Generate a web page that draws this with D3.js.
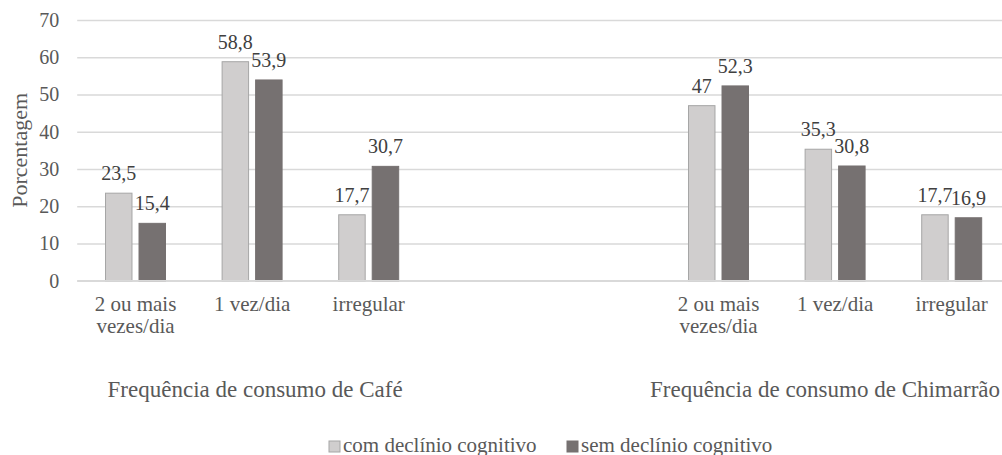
<!DOCTYPE html>
<html>
<head>
<meta charset="utf-8">
<script src="https://cdn.jsdelivr.net/npm/d3@7"></script>
<style>
  html, body { margin: 0; padding: 0; background: #fff; }
  svg { display: block; font-family: "Liberation Serif", "Times New Roman", serif; }
</style>
</head>
<body>
<div id="chart"></div>
<script>
// dados
const groupTitles = ["Frequência de consumo de Café", "Frequência de consumo de Chimarrão"];
const freqLabels = ["2 ou mais\nvezes/dia", "1 vez/dia", "irregular"];
const seriesNames = ["com declínio cognitivo", "sem declínio cognitivo"];
const cafeCom = [23.5, 58.8, 17.7];
const cafeSem = [15.4, 53.9, 30.7];
const chimCom = [47, 35.3, 17.7];
const chimSem = [52.3, 30.8, 16.9];
const yTicks = [0, 10, 20, 30, 40, 50, 60, 70];

const colors = { com: "#d0cece", sem: "#767171" };
const serif = "Liberation Serif, Times New Roman, serif";

// slots: 3 categorias café, 2 vazios, 3 categorias chimarrão
const slots = [
  ...freqLabels.map((l, i) => ({ id: "cafe" + i, label: l, group: 0, com: cafeCom[i], sem: cafeSem[i] })),
  { id: "gap0", label: "" },
  { id: "gap1", label: "" },
  ...freqLabels.map((l, i) => ({ id: "chim" + i, label: l, group: 1, com: chimCom[i], sem: chimSem[i] }))
];

const W = 1002, H = 455;
const plot = { left: 77.2, right: 1010, top: 20, bottom: 280.7 };

const svg = d3.select("#chart").append("svg")
  .attr("width", W).attr("height", H);

svg.append("rect").attr("width", W).attr("height", H).attr("fill", "#fff");

const x = d3.scaleBand()
  .domain(slots.map(d => d.id))
  .range([plot.left, plot.right]);

const x1 = d3.scaleBand()
  .domain(["com", "sem"])
  .range([0, x.bandwidth()])
  .paddingInner(0.21)
  .paddingOuter(0.845);

const y = d3.scaleLinear()
  .domain([0, 70])
  .range([plot.bottom, plot.top]);

// grade horizontal + rótulos do eixo Y
const yAxis = svg.append("g")
  .attr("transform", `translate(${plot.left},0)`)
  .call(d3.axisLeft(y).tickValues(yTicks).tickSize(-(W + 20 - plot.left)).tickPadding(18).tickFormat(d3.format("d")))
  .attr("font-family", serif);
yAxis.select(".domain").remove();
yAxis.selectAll(".tick line").attr("stroke", "#d9d9d9").attr("stroke-width", 1.5);
yAxis.selectAll(".tick text")
  .attr("fill", "#595959")
  .attr("font-size", "20px");

// título eixo Y
svg.append("text")
  .attr("transform", `translate(27,${(plot.top + plot.bottom) / 2}) rotate(-90)`)
  .attr("text-anchor", "middle")
  .attr("fill", "#595959")
  .attr("font-size", "22px")
  .text("Porcentagem");

// barras
const slotG = svg.selectAll(".slot")
  .data(slots.filter(d => d.group !== undefined))
  .enter().append("g")
  .attr("transform", d => `translate(${x(d.id)},0)`);

slotG.selectAll("rect")
  .data(d => ["com", "sem"].map(k => ({ key: k, value: d[k] })))
  .enter().append("rect")
  .attr("x", d => x1(d.key))
  .attr("width", x1.bandwidth())
  .attr("y", d => y(d.value))
  .attr("height", d => y(0) - y(d.value))
  .attr("fill", d => colors[d.key])
  .attr("stroke", d => d.key === "com" ? "#a6a6a6" : colors.sem)
  .attr("stroke-width", 1);

slotG.selectAll("text.val")
  .data(d => ["com", "sem"].map(k => ({ key: k, value: d[k] })))
  .enter().append("text")
  .attr("class", "val")
  .attr("x", d => x1(d.key) + x1.bandwidth() / 2)
  .attr("y", d => y(d.value) - 13)
  .attr("text-anchor", "middle")
  .attr("fill", "#404040")
  .attr("font-size", "20px")
  .text(d => String(d.value).replace(".", ","));

// linha base
svg.append("line")
  .attr("x1", plot.left).attr("x2", W + 20)
  .attr("y1", y(0)).attr("y2", y(0))
  .attr("stroke", "#d9d9d9").attr("stroke-width", 1.5);

// rótulos das categorias
const xAxis = svg.append("g")
  .attr("transform", `translate(0,${plot.bottom})`)
  .call(d3.axisBottom(x).tickSize(0).tickFormat(""))
  .attr("font-family", serif);
xAxis.select(".domain").remove();
xAxis.selectAll(".tick").each(function (id) {
  const s = slots.find(d => d.id === id);
  const t = d3.select(this).append("text")
    .attr("text-anchor", "middle")
    .attr("fill", "#595959")
    .attr("font-size", "21px");
  s.label.split("\n").forEach((line, i) => {
    t.append("tspan").attr("x", 0).attr("y", 30 + i * 22).text(line);
  });
});

// títulos dos grupos
groupTitles.forEach((title, g) => {
  const ids = slots.filter(d => d.group === g).map(d => d.id);
  const cx = (x(ids[0]) + x(ids[ids.length - 1]) + x.bandwidth()) / 2;
  const t = svg.append("text")
    .attr("x", cx + 3)
    .attr("y", 397)
    .attr("text-anchor", "middle")
    .attr("fill", "#595959")
    .attr("font-size", "23px")
    .text(title);
  const bb = t.node().getBBox();
  if (bb.x + bb.width > W - 2) t.attr("x", cx + 3 - (bb.x + bb.width - (W - 2)));
});

// legenda
const legendX = [329, 567];
const legend = svg.selectAll(".leg")
  .data(seriesNames)
  .enter().append("g")
  .attr("transform", (d, i) => `translate(${legendX[i]},441)`);
legend.append("rect")
  .attr("width", 11).attr("height", 11)
  .attr("fill", (d, i) => i === 0 ? colors.com : colors.sem)
  .attr("stroke", (d, i) => i === 0 ? "#a6a6a6" : colors.sem);
legend.append("text")
  .attr("x", 14)
  .attr("y", 10.5)
  .attr("fill", "#595959")
  .attr("font-size", "21px")
  .text(d => d);
</script>
</body>
</html>
